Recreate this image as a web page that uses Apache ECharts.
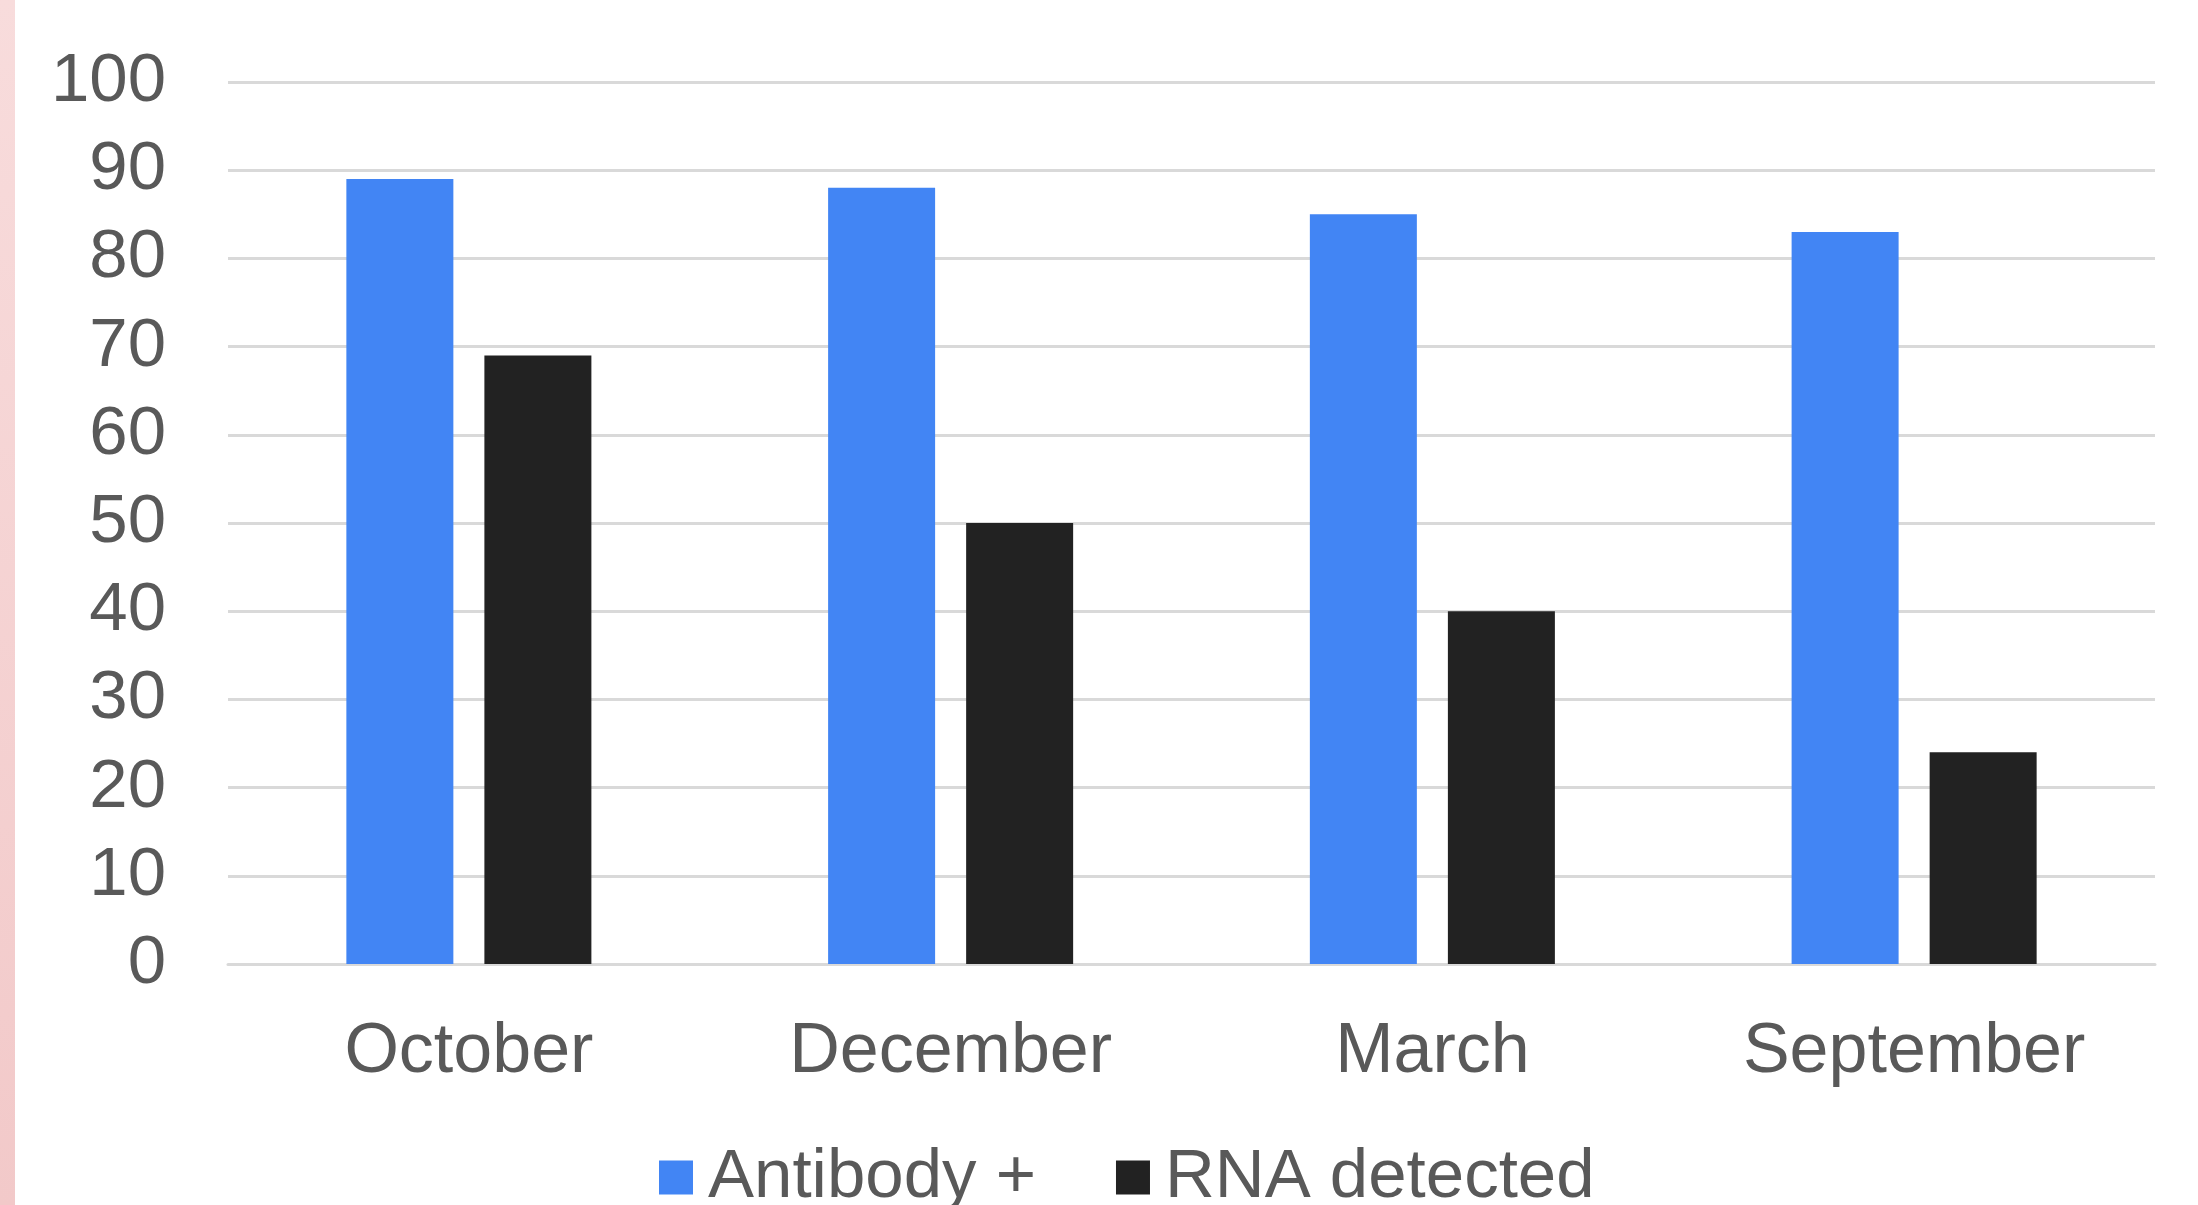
<!DOCTYPE html>
<html>
<head>
<meta charset="utf-8">
<script src="https://cdn.jsdelivr.net/npm/echarts@6/dist/echarts.min.js"></script>
<style>
html,body{margin:0;padding:0;background:#ffffff;}
#chart{width:2198px;height:1205px;}
</style>
</head>
<body>
<div id="chart"></div>
<script>
var categories = ['October', 'December', 'March', 'September'];
var antibodyValues = [89, 88, 85, 83];
var rnaValues = [69, 50, 40, 24];
var seriesNames = ['Antibody +', 'RNA detected'];
var yTicks = [0, 10, 20, 30, 40, 50, 60, 70, 80, 90, 100];

var chart = echarts.init(document.getElementById('chart'), null, {renderer: 'canvas'});
var font = '"Liberation Sans", Arial, sans-serif';
chart.setOption({
  animation: false,
  backgroundColor: '#ffffff',
  graphic: [{
    type: 'rect',
    left: 0, top: 0,
    shape: {width: 15, height: 1205},
    style: {fill: new echarts.graphic.LinearGradient(0, 0, 0, 1, [
      {offset: 0, color: '#f8dcdc'}, {offset: 1, color: '#f2c9c9'}
    ])},
    silent: true
  }],
  grid: {left: 228, right: 43, top: 82, bottom: 241, containLabel: false},
  legend: {
    data: seriesNames,
    left: 659,
    top: 1143,
    padding: 0,
    itemWidth: 34,
    itemHeight: 34,
    itemGap: 80,
    icon: 'rect',
    textStyle: {fontFamily: font, fontSize: 69, color: '#595959', padding: [0, 0, 0, 10]}
  },
  xAxis: {
    type: 'category',
    data: categories,
    axisLine: {show: true, lineStyle: {color: '#d9d9d9', width: 3}},
    axisTick: {show: false},
    axisLabel: {fontFamily: font, fontSize: 70, color: '#595959', margin: 54}
  },
  yAxis: {
    type: 'value',
    min: yTicks[0],
    max: yTicks[yTicks.length - 1],
    interval: 10,
    axisLine: {show: false},
    axisTick: {show: false},
    splitLine: {lineStyle: {color: '#d9d9d9', width: 3}},
    axisLabel: {fontFamily: font, fontSize: 69, color: '#595959', margin: 62, padding: [8, 0, 0, 0]}
  },
  series: [
    {name: seriesNames[0], type: 'bar', data: antibodyValues, barWidth: 107, barGap: '29%',
     itemStyle: {color: '#4285f4'}},
    {name: seriesNames[1], type: 'bar', data: rnaValues, barWidth: 107, barGap: '29%',
     itemStyle: {color: '#222222'}}
  ]
});
</script>
</body>
</html>
